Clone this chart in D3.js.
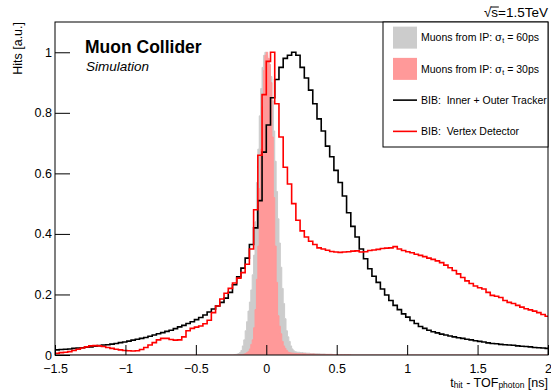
<!DOCTYPE html>
<html>
<head>
<meta charset="utf-8">
<script src="https://cdn.jsdelivr.net/npm/d3@7"></script>
<style>
  html, body { margin: 0; padding: 0; background: #fff; }
  svg { display: block; font-family: "Liberation Sans", Arial, Helvetica, sans-serif; }
</style>
</head>
<body>
<svg id="chart" width="551" height="390"></svg>
<script>
// Hit time minus photon time of flight, normalised to peak = 1.

// BIB histograms: 0.03 ns bins starting at -1.5 ns
const bibStart = -1.5;
const bibWidth = 0.03;
const bibTracker = [
  0.017, 0.018, 0.019, 0.020, 0.022, 0.023, 0.024, 0.026, 0.027, 0.029,
  0.031, 0.033, 0.034, 0.036, 0.038, 0.041, 0.043, 0.046, 0.049, 0.052,
  0.055, 0.058, 0.062, 0.066, 0.070, 0.074, 0.078, 0.082, 0.087, 0.093,
  0.098, 0.104, 0.110, 0.117, 0.124, 0.132, 0.142, 0.152, 0.162, 0.174,
  0.188, 0.207, 0.232, 0.258, 0.287, 0.320, 0.365, 0.420, 0.510, 0.670,
  0.760, 0.850, 0.910, 0.950, 0.980, 0.990, 1.000, 0.990, 0.950, 0.915,
  0.875, 0.830, 0.780, 0.740, 0.690, 0.655, 0.610, 0.570, 0.525, 0.470,
  0.425, 0.390, 0.350, 0.318, 0.285, 0.260, 0.240, 0.218, 0.198, 0.180,
  0.164, 0.150, 0.136, 0.125, 0.114, 0.104, 0.094, 0.088, 0.082, 0.077,
  0.073, 0.069, 0.066, 0.063, 0.060, 0.057, 0.055, 0.052, 0.050, 0.047,
  0.045, 0.043, 0.040, 0.038, 0.037, 0.035, 0.034, 0.033, 0.032, 0.030,
  0.029, 0.028, 0.027, 0.025, 0.024, 0.023, 0.022
];
const bibVertex = [
  0.006, 0.008, 0.009, 0.011, 0.015, 0.019, 0.023, 0.027, 0.030, 0.031,
  0.030, 0.028, 0.025, 0.022, 0.019, 0.017, 0.015, 0.014, 0.013, 0.014,
  0.018, 0.025, 0.033, 0.041, 0.050, 0.055, 0.055, 0.051, 0.049, 0.050,
  0.060, 0.080, 0.088, 0.092, 0.096, 0.103, 0.115, 0.140, 0.162, 0.185,
  0.204, 0.220, 0.238, 0.254, 0.272, 0.300, 0.350, 0.480, 0.660, 0.860,
  0.970, 1.000, 0.830, 0.720, 0.620, 0.565, 0.500, 0.445, 0.410, 0.390,
  0.376, 0.365, 0.354, 0.350, 0.346, 0.342, 0.340, 0.339, 0.340, 0.341,
  0.343, 0.344, 0.340, 0.341, 0.345, 0.347, 0.349, 0.352, 0.353, 0.354,
  0.358, 0.350, 0.345, 0.341, 0.338, 0.333, 0.329, 0.325, 0.320, 0.316,
  0.311, 0.305, 0.297, 0.288, 0.279, 0.268, 0.256, 0.245, 0.236, 0.228,
  0.222, 0.218, 0.207, 0.197, 0.194, 0.190, 0.180, 0.174, 0.170, 0.164,
  0.158, 0.153, 0.149, 0.145, 0.140, 0.134, 0.128
];

// Muons from the IP: 0.01 ns bins
const muWidth = 0.01;
const mu60Start = -0.25;
const mu60 = [
  0.000, 0.000, 0.001, 0.002, 0.003, 0.005, 0.008, 0.015, 0.030, 0.050,
  0.080, 0.110, 0.145, 0.175, 0.215, 0.265, 0.330, 0.440, 0.570, 0.680,
  0.790, 0.880, 0.950, 0.990, 1.000, 0.990, 0.975, 0.950, 0.920, 0.840,
  0.740, 0.640, 0.540, 0.450, 0.370, 0.290, 0.220, 0.170, 0.120, 0.080,
  0.060, 0.045, 0.030, 0.020, 0.014, 0.011, 0.010, 0.009, 0.009, 0.008,
  0.008, 0.007, 0.007, 0.006, 0.006, 0.006, 0.005, 0.005, 0.005, 0.004,
  0.004, 0.004, 0.004, 0.003, 0.003, 0.003, 0.003, 0.002, 0.002, 0.002,
  0.002, 0.002, 0.001, 0.001, 0.001
];
const mu30Start = -0.2;
const mu30 = [
  0.000, 0.001, 0.001, 0.002, 0.003, 0.005, 0.008, 0.012, 0.020, 0.035,
  0.050, 0.090, 0.150, 0.250, 0.360, 0.550, 0.680, 0.820, 0.940, 0.990,
  1.000, 0.980, 0.960, 0.900, 0.720, 0.520, 0.360, 0.240, 0.130, 0.095,
  0.070, 0.045, 0.030, 0.022, 0.015, 0.010, 0.008, 0.007, 0.006, 0.006,
  0.005, 0.005, 0.005, 0.004, 0.004, 0.004, 0.004, 0.004, 0.003, 0.003,
  0.003, 0.003, 0.003, 0.003, 0.003, 0.002, 0.002, 0.002, 0.002, 0.002,
  0.002, 0.002, 0.002, 0.002, 0.002, 0.002, 0.002, 0.001, 0.001, 0.001,
  0.001, 0.001, 0.001, 0.001, 0.001, 0.001, 0.001, 0.001, 0.001, 0.001
];

// Axis ticks
const xMajor = [-1.5, -1, -0.5, 0, 0.5, 1, 1.5, 2];
const xMinor = d3.range(-15, 21).map(i => i / 10);
const yMajor = [0, 0.2, 0.4, 0.6, 0.8, 1];
const yMinor = d3.range(0, 23).map(i => i * 0.05);

const legendEntries = [
  { label: "Muons from IP: ", sub: "60ps", kind: "box", color: "#cccccc" },
  { label: "Muons from IP: ", sub: "30ps", kind: "box", color: "#ff9999" },
  { label: "BIB:  Inner + Outer Tracker", kind: "line", color: "#000000" },
  { label: "BIB:  Vertex Detector", kind: "line", color: "#ff0000" }
];

const svg = d3.select("#chart");
const frame = { left: 55, right: 548, top: 22, bottom: 355 };

const x = d3.scaleLinear().domain([-1.5, 2]).range([frame.left, frame.right]);
const y = d3.scaleLinear().domain([0, 1.1]).range([frame.bottom, frame.top]);

svg.append("defs").append("clipPath").attr("id", "plotClip")
  .append("rect")
  .attr("x", frame.left).attr("y", frame.top)
  .attr("width", frame.right - frame.left).attr("height", frame.bottom - frame.top);

// Turn bin contents into step points [edge, value]
function stepPoints(start, width, values) {
  const pts = [];
  values.forEach((v, i) => {
    pts.push([start + i * width, v]);
    pts.push([start + (i + 1) * width, v]);
  });
  return pts;
}

const plot = svg.append("g").attr("clip-path", "url(#plotClip)");

const area = d3.area().x(d => x(d[0])).y0(y(0)).y1(d => y(d[1]));
const line = d3.line().x(d => x(d[0])).y(d => y(d[1]));

// Filled muon histograms, with their outline running along zero outside the filled range
function filledHist(start, values, color) {
  const pts = stepPoints(start, muWidth, values);
  plot.append("path").datum(pts).attr("d", area).attr("fill", color).attr("stroke", "none");
  const outline = [[-1.5, 0], [start, 0], ...pts, [start + values.length * muWidth, 0], [2, 0]];
  plot.append("path").datum(outline).attr("d", line)
    .attr("fill", "none").attr("stroke", color).attr("stroke-width", 1);
}
filledHist(mu60Start, mu60, "#cccccc");
filledHist(mu30Start, mu30, "#ff9999");

plot.append("path").datum(stepPoints(bibStart, bibWidth, bibTracker)).attr("d", line)
  .attr("fill", "none").attr("stroke", "#000").attr("stroke-width", 1.6);
plot.append("path").datum(stepPoints(bibStart, bibWidth, bibVertex)).attr("d", line)
  .attr("fill", "none").attr("stroke", "#ff0000").attr("stroke-width", 1.6);

// Axes with ticks pointing into the frame
const fmt = d3.format("");
const xAxisG = svg.append("g").attr("transform", `translate(0,${frame.bottom})`);
xAxisG.call(d3.axisBottom(x).tickValues(xMinor).tickSize(-5).tickFormat(""));
xAxisG.call(d3.axisBottom(x).tickValues(xMajor).tickSize(-10).tickPadding(9.15).tickFormat(d => fmt(d)));
xAxisG.selectAll(".domain").remove();
xAxisG.selectAll("line").attr("stroke", "#000");
xAxisG.selectAll("text").attr("font-size", "12.5px").attr("fill", "#000")
  .attr("font-family", "'Liberation Sans', Arial, sans-serif");

const yAxisG = svg.append("g").attr("transform", `translate(${frame.left},0)`);
yAxisG.call(d3.axisLeft(y).tickValues(yMinor).tickSize(-8).tickFormat(""));
yAxisG.call(d3.axisLeft(y).tickValues(yMajor).tickSize(-15).tickPadding(3).tickFormat(d => fmt(d)));
yAxisG.selectAll(".domain").remove();
yAxisG.selectAll("line").attr("stroke", "#000");
yAxisG.selectAll("text").attr("font-size", "12.5px").attr("fill", "#000")
  .attr("font-family", "'Liberation Sans', Arial, sans-serif");

// Frame
svg.append("rect")
  .attr("x", frame.left).attr("y", frame.top)
  .attr("width", frame.right - frame.left).attr("height", frame.bottom - frame.top)
  .attr("fill", "none").attr("stroke", "#000").attr("stroke-width", 1);

// Axis titles
const xTitle = svg.append("text")
  .attr("x", frame.right).attr("y", 387.1)
  .attr("text-anchor", "end").attr("font-size", "12.5px");
xTitle.append("tspan").text("t");
xTitle.append("tspan").attr("font-size", "8.5px").attr("dy", 1).text("hit");
xTitle.append("tspan").attr("dy", -1).text(" - TOF");
xTitle.append("tspan").attr("font-size", "8.5px").attr("dy", 1).text("photon");
xTitle.append("tspan").attr("dy", -1).text(" [ns]");

svg.append("text")
  .attr("transform", `translate(22,${frame.top}) rotate(-90)`)
  .attr("text-anchor", "end").attr("font-size", "12.5px")
  .text("Hits [a.u.]");

// Labels inside the frame
svg.append("text").attr("x", 85).attr("y", 53)
  .attr("font-size", "17.5px").attr("font-weight", "bold").text("Muon Collider");
svg.append("text").attr("x", 86).attr("y", 71)
  .attr("font-size", "13.5px").attr("font-style", "italic").text("Simulation");

// Centre-of-mass energy, with a bar over the s under the root sign
const energy = svg.append("text").attr("x", 548).attr("y", 17)
  .attr("text-anchor", "end").attr("font-size", "13.5px");
energy.append("tspan").attr("class", "root").text("\u221A");
energy.append("tspan").attr("class", "arg").text("s");
energy.append("tspan").text("=1.5TeV");
const argBox = energy.select(".arg").node().getBBox();
svg.append("line")
  .attr("x1", argBox.x - 0.5).attr("x2", argBox.x + argBox.width + 0.5)
  .attr("y1", argBox.y + 2).attr("y2", argBox.y + 2)
  .attr("stroke", "#000").attr("stroke-width", 1);

// Legend
const legend = { left: 383, top: 22, right: 548, bottom: 147 };
svg.append("rect")
  .attr("x", legend.left).attr("y", legend.top)
  .attr("width", legend.right - legend.left).attr("height", legend.bottom - legend.top)
  .attr("fill", "#fff").attr("stroke", "#000").attr("stroke-width", 1);
const rowH = (legend.bottom - legend.top) / legendEntries.length;
legendEntries.forEach((e, i) => {
  const cy = legend.top + rowH * (i + 0.5);
  if (e.kind === "box") {
    svg.append("rect").attr("x", 393).attr("y", cy - 11).attr("width", 24).attr("height", 22)
      .attr("fill", e.color);
  } else {
    svg.append("line").attr("x1", 393).attr("x2", 417).attr("y1", cy).attr("y2", cy)
      .attr("stroke", e.color).attr("stroke-width", 1.6);
  }
  const t = svg.append("text").attr("x", 421).attr("y", cy + 3.8).attr("font-size", "10.5px")
    .attr("xml:space", "preserve").style("white-space", "pre");
  t.append("tspan").text(e.label);
  if (e.sub) {
    t.append("tspan").attr("font-family", "'DejaVu Serif', serif").text("\u03C3");
    t.append("tspan").attr("font-size", "7px").attr("dy", 2).text("t");
    t.append("tspan").attr("dy", -2).text(" = " + e.sub);
  }
});
</script>
</body>
</html>
